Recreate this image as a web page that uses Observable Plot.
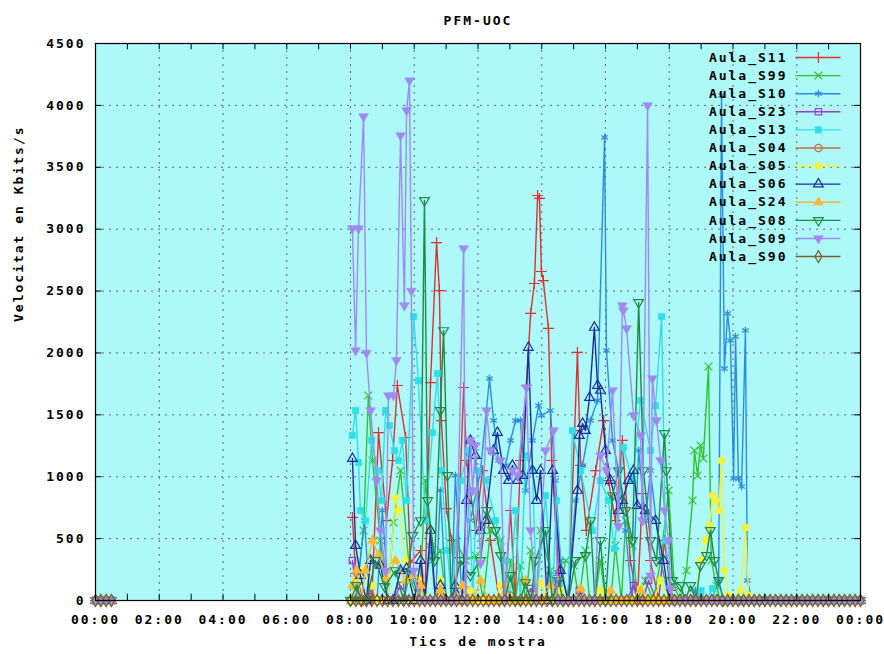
<!DOCTYPE html>
<html>
<head>
<meta charset="utf-8">
<script src="https://cdn.jsdelivr.net/npm/d3@7"></script>
<script src="https://cdn.jsdelivr.net/npm/@observablehq/plot@0.6"></script>
<style>
  html, body { margin: 0; padding: 0; background: #fff; }
  #chart { width: 884px; height: 654px; }
</style>
</head>
<body>
<div id="chart"></div>
<script>
// ---- data (time in decimal hours, value in Kbits/s) ----
const seriesNames = ["Aula_S11","Aula_S99","Aula_S10","Aula_S23","Aula_S13","Aula_S04","Aula_S05","Aula_S06","Aula_S24","Aula_S08","Aula_S09","Aula_S90"];
const yTicks = [0,500,1000,1500,2000,2500,3000,3500,4000,4500];
const xTickHours = [0,2,4,6,8,10,12,14,16,18,20,22,24];

// sample times where all classrooms report 0
const idleTimes = ("00:00 00:10 00:20 00:30 " +
 "08:00 08:10 08:20 08:30 08:40 08:50 09:00 09:10 09:20 09:30 09:40 09:50 " +
 "10:00 10:10 10:20 10:30 10:40 10:50 11:00 11:10 11:20 11:30 11:40 11:50 " +
 "12:00 12:10 12:20 12:30 12:40 12:50 13:00 13:10 13:20 13:30 13:40 13:50 " +
 "14:00 14:10 14:20 14:30 14:40 14:50 15:00 15:10 15:20 15:30 15:40 15:50 " +
 "16:00 16:10 16:20 16:30 16:40 16:50 17:00 17:10 17:20 17:30 17:40 17:50 " +
 "18:00 18:10 18:20 18:30 18:40 18:50 19:00 19:10 19:20 19:30 19:40 19:50 " +
 "20:00 20:10 20:20 20:30 20:40 20:50 21:00 21:10 21:20 21:30 21:40 21:50 " +
 "22:00 22:10 22:20 22:30 22:40 22:50 23:00 23:10 23:20 23:30 23:40 23:50 24:00").split(" ");

const S11 = [[8.06,671],[8.16,218],[8.4,0],[8.88,1357],[9.13,646],[9.32,1131],[9.47,1737],[9.73,1317],[9.88,307],[10.2,404],[10.51,1760],[10.70,2892],[10.79,2504],[10.85,1454],[11.01,743],[11.17,485],[11.3,0],[11.55,1721],[11.64,1131],[11.92,566],[12.14,1050],[12.39,485],[13.02,727],[13.33,1131],[13.52,1737],[13.65,2319],[13.77,2561],[13.87,3272],[13.93,3248],[13.99,2658],[14.05,2585],[14.21,2198],[14.31,1131],[14.53,240],[14.7,0],[15.03,1373],[15.12,2004],[15.22,1091],[15.40,566],[15.69,1050],[15.94,1454],[16.09,969],[16.31,646],[16.53,1293],[16.78,323],[17.16,864],[17.41,323],[17.85,485],[18.04,81],[18.2,0]];
const S99 = [[8.41,566],[8.56,1656],[8.69,1131],[8.94,485],[9.35,630],[9.57,1050],[9.88,162],[10.35,969],[10.57,323],[10.82,404],[11.29,485],[11.61,323],[11.92,364],[12.39,566],[12.71,485],[13.02,323],[13.33,283],[13.65,404],[13.96,566],[14.27,242],[14.75,323],[15.00,283],[15.37,404],[15.84,323],[16.31,444],[16.63,646],[16.85,444],[17.25,162],[17.73,323],[17.98,889],[18.16,121],[18.54,242],[18.73,808],[18.79,1212],[18.89,1010],[18.98,1252],[19.07,1147],[19.23,1890],[19.32,323],[19.48,121],[19.6,0]];
const S10 = [[8.44,646],[8.6,0],[9.00,727],[9.2,0],[9.88,242],[10.51,444],[10.82,889],[11.29,1010],[11.76,646],[12.08,1050],[12.36,1794],[12.49,1454],[12.64,1131],[12.86,1091],[13.02,1293],[13.18,1454],[13.33,1454],[13.49,889],[13.71,1293],[13.90,1575],[13.99,1495],[14.27,1535],[14.43,969],[14.59,323],[14.8,0],[15.06,808],[15.28,1091],[15.53,1454],[15.75,1616],[15.97,3741],[16.03,2020],[16.22,1293],[16.41,1050],[16.63,566],[17.04,1212],[17.25,646],[17.41,1050],[17.73,323],[18.2,0],[18.82,81],[19.2,0],[19.55,162],[19.64,4080],[19.73,1874],[19.83,2319],[19.92,2101],[20.02,986],[20.08,2133],[20.17,986],[20.27,921],[20.39,2181],[20.45,162],[20.6,0]];
const S23 = [[8.06,323],[8.16,121],[8.63,81],[9.57,121],[10.20,121],[11.76,81],[13.65,97],[14.46,178],[15.18,81],[16.88,121],[17.35,162],[17.6,0]];
const S13 = [[8.06,1333],[8.16,1535],[8.25,1115],[8.31,727],[8.47,646],[8.66,1293],[8.85,1050],[8.97,808],[9.10,1535],[9.22,1414],[9.38,1212],[9.51,1131],[9.63,1293],[9.76,808],[9.98,2294],[10.13,1777],[10.35,646],[10.57,1357],[10.73,1834],[10.85,1050],[11.04,404],[11.45,969],[11.70,1212],[11.98,1050],[12.24,969],[12.55,646],[12.86,323],[13.18,727],[13.49,1171],[13.71,1050],[14.12,848],[14.46,808],[14.96,1373],[15.22,1050],[15.59,566],[15.84,969],[16.09,808],[16.28,420],[16.56,1236],[16.85,969],[17.10,1616],[17.41,1212],[17.57,1575],[17.76,2294],[17.88,485],[18.1,0],[19.0,81],[19.36,97],[19.5,0]];
const S04 = [[8.63,40],[10.5,0],[13.0,40],[13.2,0]];
const S05 = [[8.16,162],[8.38,242],[8.69,121],[9.41,830],[9.51,727],[9.73,323],[10.20,162],[10.82,162],[11.76,81],[12.71,121],[13.96,145],[14.59,81],[15.84,81],[17.10,97],[17.73,162],[18.98,323],[19.14,485],[19.26,606],[19.36,848],[19.45,808],[19.55,727],[19.64,1131],[19.73,242],[19.86,40],[20.24,81],[20.39,590],[20.49,40],[20.6,0]];
const S06 = [[8.06,1147],[8.16,444],[8.31,202],[8.63,323],[8.94,283],[9.57,242],[9.76,259],[10.20,323],[10.51,566],[10.82,121],[11.29,121],[11.64,808],[11.76,1293],[11.92,1171],[12.08,566],[12.24,646],[12.49,1212],[12.61,1357],[12.80,1050],[12.96,969],[13.08,1091],[13.24,969],[13.40,1010],[13.58,2044],[13.71,1050],[13.84,808],[13.96,1050],[14.34,1050],[14.59,242],[15.12,889],[15.18,1333],[15.28,1430],[15.37,1373],[15.50,1640],[15.65,2206],[15.75,1737],[15.84,1697],[16.00,1212],[16.16,969],[16.41,727],[16.53,808],[16.72,969],[16.88,1050],[17.00,767],[17.25,727],[17.57,646],[17.82,323],[18.0,0]];
const S24 = [[8.06,121],[8.19,242],[8.47,242],[8.69,485],[8.88,364],[9.10,178],[9.41,323],[9.73,162],[9.98,202],[10.20,121],[10.82,81],[11.51,121],[12.08,162],[12.86,121],[13.49,162],[14.27,121],[15.22,97],[16.16,81],[17.10,81],[17.3,0]];
const S08 = [[8.19,121],[8.5,0],[8.78,323],[9.07,113],[9.41,242],[9.95,525],[10.20,646],[10.32,3232],[10.42,808],[10.64,323],[10.82,1535],[10.92,2181],[11.04,1010],[11.45,323],[11.76,202],[12.08,323],[12.27,727],[12.55,566],[12.71,364],[13.02,202],[13.49,145],[13.80,323],[14.12,566],[14.53,162],[15.06,323],[15.37,364],[15.53,646],[15.84,485],[16.22,848],[16.41,1050],[16.63,727],[16.85,485],[17.04,2408],[17.19,1050],[17.41,485],[17.60,323],[17.85,1349],[17.91,1050],[18.10,162],[18.35,121],[18.67,121],[18.98,283],[19.17,364],[19.29,566],[19.42,323],[19.55,162],[19.7,0]];
const S09 = [[8.06,3005],[8.16,2020],[8.25,3005],[8.41,3910],[8.50,2000],[8.63,1535],[8.82,970],[8.94,565],[9.10,240],[9.19,1656],[9.35,1656],[9.44,1940],[9.57,3757],[9.69,2383],[9.76,3960],[9.85,4200],[9.91,2500],[9.98,240],[10.3,0],[11.3,0],[11.55,2844],[11.61,0],[11.76,1293],[11.83,889],[11.92,1252],[12.08,300],[12.27,1535],[12.39,1212],[12.71,1131],[13.08,1050],[13.24,1010],[13.52,1721],[13.65,566],[14.12,1212],[14.37,1373],[14.5,0],[15.5,0],[15.84,1171],[16.03,1050],[16.22,1697],[16.41,600],[16.53,2383],[16.56,2343],[16.66,2198],[16.88,1495],[17.10,1333],[17.16,646],[17.32,3999],[17.41,200],[17.47,1794],[17.60,1454],[17.73,1131],[17.85,727],[17.98,485],[18.04,97],[18.1,0]];
const S90 = [];

const seriesData = [S11,S99,S10,S23,S13,S04,S05,S06,S24,S08,S09,S90];
const colors = ["#dc3232","#2ec42e","#2a8ee0","#9c3cc8","#2ee0e6","#c0703a","#f2f23c","#1c2c9c","#f8b830","#1e8a44","#a08af0","#7a5f28"];
// marker styles: [symbol, filled, rotate]
const markers = [["plus",false,0],["times",false,0],["asterisk",false,0],["square",false,0],["square",true,0],["circle",false,0],["circle",true,0],["triangle",false,0],["triangle",true,0],["triangle",false,180],["triangle",true,180],["diamond",false,0]];

// ---- helpers ----
const T0 = Date.UTC(2000,0,1);
const toH = t => typeof t === "number" ? t : (+t.slice(0,2) + +t.slice(3,5)/60);
const at = h => new Date(T0 + h * 3600e3);

function buildSeries(active) {
  const pts = active.map(([h, v]) => ({h, v}));
  for (const t of idleTimes) {
    const h = toH(t);
    if (!active.some(([a]) => Math.abs(a - h) < 0.12)) pts.push({h, v: 0});
  }
  pts.sort((a, b) => a.h - b.h);
  pts.forEach(p => { p.t = at(p.h); p.seg = p.h < 4 ? 0 : 1; });
  return pts;
}

const bg = "#adf8f8";
const marks = [Plot.frame({fill: bg})];
marks.push(Plot.gridX(xTickHours.slice(1, -1).map(at), {stroke: "#6a6a6a", strokeOpacity: 1, strokeDasharray: "2,5"}));
marks.push(Plot.gridY(yTicks.slice(1, -1), {stroke: "#6a6a6a", strokeOpacity: 1, strokeDasharray: "2,5"}));

seriesData.forEach((active, i) => {
  const pts = buildSeries(active);
  const [sym, filled, rot] = markers[i];
  marks.push(Plot.line(pts, {x: "t", y: "v", z: "seg", stroke: colors[i], strokeWidth: 1.4}));
  marks.push(Plot.dot(pts, {x: "t", y: "v", symbol: sym, r: 3.6, rotate: rot,
    fill: filled ? colors[i] : "none", stroke: colors[i], strokeWidth: filled ? 0.5 : 1.2}));
});

// inward tick marks on all four sides (every hour / every 500)
const hourTicks = d3.range(1, 24).map(at);
marks.push(Plot.ruleX(hourTicks, {x: d => d, y1: 0, y2: 50, stroke: "#000"}));
marks.push(Plot.ruleX(hourTicks, {x: d => d, y1: 4450, y2: 4500, stroke: "#000"}));
marks.push(Plot.ruleY(yTicks.slice(1, -1), {y: d => d, x1: at(0), x2: at(0.2), stroke: "#000"}));
marks.push(Plot.ruleY(yTicks.slice(1, -1), {y: d => d, x1: at(23.8), x2: at(24), stroke: "#000"}));
marks.push(Plot.frame({stroke: "#000", strokeWidth: 1.2}));

// axes
marks.push(Plot.axisX(xTickHours.map(at), {tickSize: 0, tickPadding: 14, tickFormat: d3.utcFormat("%H:%M"), label: null}));
marks.push(Plot.axisY(yTicks, {tickSize: 0, tickPadding: 10, tickFormat: d => String(d), label: null}));

// titles
marks.push(Plot.text(["PFM-UOC"], {frameAnchor: "top", dy: -28, text: d => d}));
marks.push(Plot.text(["Tics de mostra"], {frameAnchor: "bottom", dy: 45, text: d => d}));
marks.push(Plot.text(["Velocitat en Kbits/s"], {frameAnchor: "left", dx: -77, rotate: -90, text: d => d}));

// legend (inside plot, top right)
const legendY = (d, i) => 4387 - i * 146.2;
marks.push(Plot.text(seriesNames, {x: () => at(21.71), y: legendY, text: d => d, textAnchor: "end"}));
seriesNames.forEach((name, i) => {
  const [sym, filled, rot] = markers[i];
  const yv = 4387 - i * 146.2;
  marks.push(Plot.link([name], {x1: () => at(21.96), x2: () => at(23.37), y1: () => yv, y2: () => yv, stroke: colors[i], strokeWidth: 1.4}));
  marks.push(Plot.dot([name], {x: () => at(22.68), y: () => yv, symbol: sym, r: 3.6, rotate: rot,
    fill: filled ? colors[i] : "none", stroke: colors[i], strokeWidth: filled ? 0.5 : 1.2}));
});

const chart = Plot.plot({
  width: 884,
  height: 654,
  marginLeft: 95,
  marginRight: 24,
  marginTop: 43,
  marginBottom: 54,
  style: {fontFamily: "'DejaVu Sans Mono', monospace", fontWeight: "bold", fontSize: "13px", letterSpacing: "2px", color: "#000", background: "#fff"},
  x: {type: "utc", domain: [at(0), at(24)]},
  y: {domain: [0, 4500]},
  marks
});
document.getElementById("chart").appendChild(chart);
</script>
</body>
</html>
